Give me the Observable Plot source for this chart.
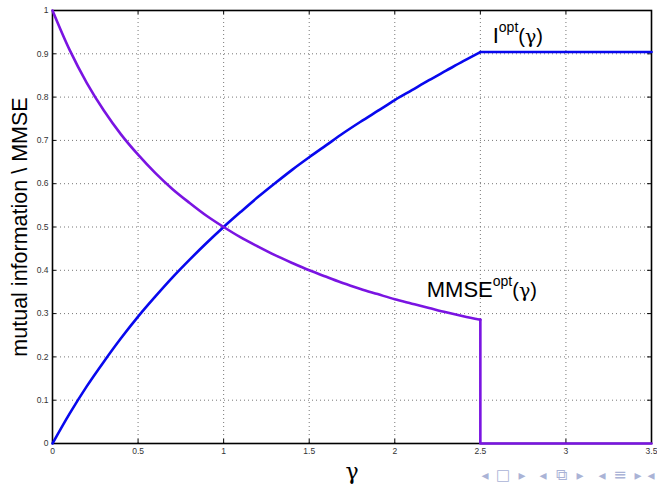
<!DOCTYPE html>
<html>
<head>
<meta charset="utf-8">
<script src="https://cdn.jsdelivr.net/npm/d3@7"></script>
<script src="https://cdn.jsdelivr.net/npm/@observablehq/plot@0.6"></script>
<style>
  html, body { margin: 0; padding: 0; background: #fff; }
  #wrap { position: relative; width: 657px; height: 485px; overflow: hidden; }
  .nav { position: absolute; top: 466px; font-family: "DejaVu Sans", sans-serif;
         color: #aab3d6; line-height: 18px; transform: translateX(-50%); }
</style>
</head>
<body>
<div id="wrap"></div>
<script>
// γ samples
const gamma = [0, 0.1, 0.2, 0.3, 0.4, 0.5, 0.6, 0.7, 0.8, 0.9, 1.0, 1.1, 1.2, 1.3, 1.4, 1.5,
               1.6, 1.7, 1.8, 1.9, 2.0, 2.1, 2.2, 2.3, 2.4, 2.5];
// I^opt(γ) (blue curve)
const mutualInfo = [0, 0.069, 0.132, 0.189, 0.243, 0.293, 0.339, 0.383, 0.424, 0.463, 0.500,
                    0.535, 0.569, 0.601, 0.632, 0.661, 0.689, 0.717, 0.743, 0.768, 0.793,
                    0.816, 0.839, 0.861, 0.883, 0.904];
// MMSE^opt(γ) (purple curve)
const mmse = [1.000, 0.909, 0.833, 0.769, 0.714, 0.667, 0.625, 0.588, 0.556, 0.526, 0.500,
              0.476, 0.455, 0.435, 0.417, 0.400, 0.385, 0.370, 0.357, 0.345, 0.333,
              0.323, 0.313, 0.303, 0.294, 0.286];
// flat part of I^opt after γ = 2.5
const plateauGamma = [2.5, 3.5];
const plateauI = [0.904, 0.904];
// drop of MMSE^opt at γ = 2.5
const dropGamma = [2.5, 2.5, 3.5];
const dropMmse = [0.286, 0, 0];

const xTicks = [0, 0.5, 1, 1.5, 2, 2.5, 3, 3.5];
const xTickLabels = ["0", "0.5", "1", "1.5", "2", "2.5", "3", "3.5"];
const yTicks = [0, 0.1, 0.2, 0.3, 0.4, 0.5, 0.6, 0.7, 0.8, 0.9, 1];
const yTickLabels = ["0", "0.1", "0.2", "0.3", "0.4", "0.5", "0.6", "0.7", "0.8", "0.9", "1"];

const blue = "#0808ee";
const purple = "#7a14e2";
const sans = "'Liberation Sans', Arial, sans-serif";
const serif = "'DejaVu Serif', 'Liberation Serif', serif";

const curveI = gamma.map((g, i) => ({g, v: mutualInfo[i]}));
const curveM = gamma.map((g, i) => ({g, v: mmse[i]}));
const flatI = plateauGamma.map((g, i) => ({g, v: plateauI[i]}));
const dropM = dropGamma.map((g, i) => ({g, v: dropMmse[i]}));

const tickLenX = 0.0095;  // inward tick length in y units
const tickLenY = 0.023;   // inward tick length in x units

const plot = Plot.plot({
  width: 657,
  height: 485,
  marginLeft: 52,
  marginRight: 6,
  marginTop: 10,
  marginBottom: 42,
  x: {domain: [0, 3.5]},
  y: {domain: [0, 1]},
  style: {fontFamily: sans, background: "white", color: "#222"},
  marks: [
    Plot.gridX(xTicks, {stroke: "#777", strokeOpacity: 1, strokeDasharray: "1,3", strokeWidth: 1}),
    Plot.gridY(yTicks, {stroke: "#777", strokeOpacity: 1, strokeDasharray: "1,3", strokeWidth: 1}),
    Plot.ruleX(xTicks, {x: d => d, y1: 0, y2: tickLenX, stroke: "black"}),
    Plot.ruleX(xTicks, {x: d => d, y1: 1, y2: 1 - tickLenX, stroke: "black"}),
    Plot.ruleY(yTicks, {y: d => d, x1: 0, x2: tickLenY, stroke: "black"}),
    Plot.ruleY(yTicks, {y: d => d, x1: 3.5, x2: 3.5 - tickLenY, stroke: "black"}),
    Plot.axisX(xTicks, {tickSize: 0, tickPadding: 4, fontSize: 8.5, label: null,
                        tickFormat: d => xTickLabels[xTicks.indexOf(d)], fill: "#333"}),
    Plot.axisY(yTicks, {tickSize: 0, tickPadding: 4, fontSize: 8.5, label: null,
                        tickFormat: d => yTickLabels[yTicks.indexOf(d)], fill: "#333"}),
    Plot.frame({stroke: "black", strokeWidth: 1.6}),
    Plot.line(curveI, {x: "g", y: "v", stroke: blue, strokeWidth: 2.6, curve: "catmull-rom"}),
    Plot.line(flatI, {x: "g", y: "v", stroke: blue, strokeWidth: 2.6}),
    Plot.line(curveM, {x: "g", y: "v", stroke: purple, strokeWidth: 2.6, curve: "catmull-rom"}),
    Plot.line(dropM, {x: "g", y: "v", stroke: purple, strokeWidth: 2.6}),
    Plot.text(["mutual information \\ MMSE"], {frameAnchor: "left", rotate: -90, dx: -32,
              textAnchor: "middle", lineAnchor: "middle", fontSize: 21.5, fill: "black"}),
    Plot.text(["γ"], {frameAnchor: "bottom", dy: 28, textAnchor: "middle", lineAnchor: "middle",
              fontSize: 22, fontFamily: serif, fill: "black"})
  ]
});

document.getElementById("wrap").prepend(plot);

// superscripted curve labels, positioned through the plot's scales
const sx = plot.scale("x"), sy = plot.scale("y");
const svg = d3.select(plot);
function supLabel(gx, gy, base, sup, baseSize, supSize, tailSize) {
  const t = svg.append("text")
    .attr("x", sx.apply(gx)).attr("y", sy.apply(gy))
    .attr("text-anchor", "start")
    .attr("font-family", sans)
    .attr("fill", "black");
  t.append("tspan").attr("font-size", baseSize).text(base);
  t.append("tspan").attr("font-size", supSize).attr("dy", -baseSize * 0.5).text(sup);
  t.append("tspan").attr("font-size", tailSize).attr("dy", baseSize * 0.5).text("(");
  t.append("tspan").attr("font-size", tailSize - 1).attr("font-family", serif).text("γ");
  t.append("tspan").attr("font-size", tailSize).text(")");
}
supLabel(2.575, 0.924, "I", "opt", 22, 14, 20);
supLabel(2.19, 0.337, "MMSE", "opt", 22, 14, 20);

// beamer navigation symbols
const navSymbols = [["◂", 485, 14], ["□", 503, 15], ["▸", 522, 14],
                    ["◂", 543, 14], ["⧉", 561, 16], ["▸", 580, 14],
                    ["◂", 602, 14], ["≡", 620, 16], ["▸", 638, 14], ["◂", 651, 14]];
const wrap = document.getElementById("wrap");
for (const [s, left, size] of navSymbols) {
  const el = document.createElement("span");
  el.className = "nav";
  el.style.left = left + "px";
  el.style.fontSize = size + "px";
  el.textContent = s;
  wrap.appendChild(el);
}
</script>
</body>
</html>
